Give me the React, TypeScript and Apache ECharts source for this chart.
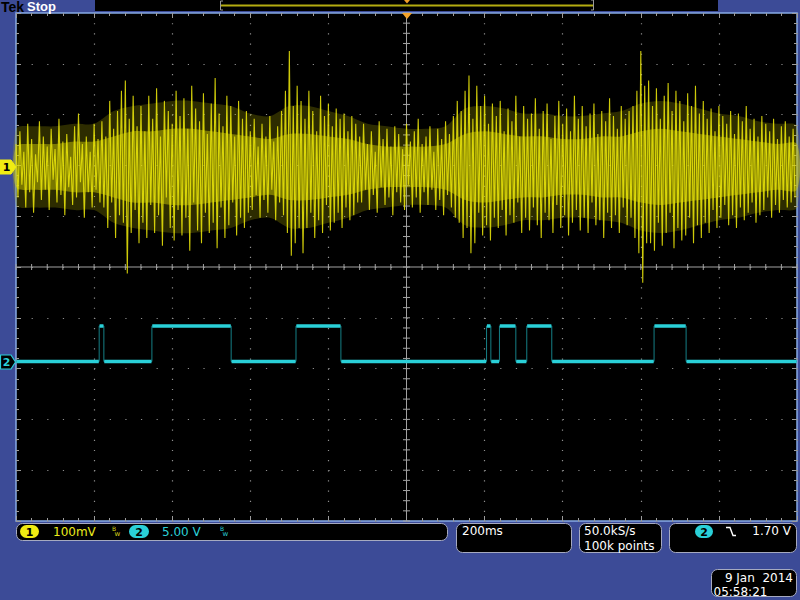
import React, { useEffect, useRef } from "react";
import * as echarts from "echarts";

// ---- scope settings ----
const SCREEN_MS = 2000; // 10 divisions x 200 ms
const TIME_DIV_MS = 200;
const CH1_MV_PER_DIV = 100;
const CH1_OFFSET_DIV = 1.97;
const CH2_V_PER_DIV = 5;
const CH2_OFFSET_DIV = -1.86;

// ---- channel 1 (100 mV/div) : per-sample positive / negative peaks, mV ----
const ch1High = [
  45, 70, 30, 85, 55, 25, 90, 60, 40, 75, 35, 95, 50, 65, 20, 80, 105, 45, 60, 30, 85, 55,
  90, 60, 130, 75, 110, 150, 170, 95, 140, 80,
  120, 70, 140, 95, 155, 60, 130, 110, 85, 150, 100, 135, 75, 160, 115, 90, 145, 65, 125, 175, 105, 80, 140, 120, 60, 130, 95, 110,
  70, 95, 40, 85, 60, 100, 50, 80, 110,
  150, 228, 120, 160,
  130, 95, 150, 110, 70, 140, 100, 125, 80, 115, 95, 105, 70, 100, 85,
  60, 85, 45, 70, 30, 90, 55, 75, 40, 80, 65, 35, 85, 50, 70, 95, 45, 60, 80, 30, 75, 55, 90, 65, 100,
  130, 110, 150, 180, 95, 160, 120, 140, 85, 125,
  100, 130, 70, 115, 90, 140, 60, 120, 95, 105, 135, 75, 110, 125, 55, 100, 130, 85, 115, 70, 140, 95, 120, 80, 105, 125, 65, 110, 90, 135, 100, 75, 120, 95, 110,
  120, 150, 228, 160,
  170, 120, 155, 95, 140, 165, 110, 150, 130, 90, 145, 120, 160, 105,
  130, 95, 115, 70, 120, 100, 85, 110, 65, 105, 90, 120, 75, 95, 60, 100, 85, 70, 95, 55, 80, 90, 60, 75,
];
const ch1Low = [
  -60, -35, -80, -50, -90, -30, -65, -45, -85, -25, -70, -55, -95, -40, -75, -60, -30, -100, -50, -80, -45, -70,
  -80, -120, -70, -140, -95, -110, -210, -130, -85, -150,
  -110, -140, -75, -130, -95, -155, -60, -120, -145, -85, -135, -100, -165, -70, -125, -150, -90, -130, -110, -160, -80, -140, -115, -70, -135, -100, -120, -90,
  -85, -55, -100, -65, -90, -45, -105, -70, -95,
  -130, -175, -150, -120,
  -170, -120, -90, -140, -105, -130, -75, -125, -110, -90, -120, -80, -105, -95, -70,
  -70, -45, -85, -55, -90, -40, -75, -60, -95, -50, -70, -85, -35, -80, -60, -90, -50, -75, -45, -85, -65, -95, -55, -80, -100,
  -110, -140, -120, -170, -150, -90, -135, -115, -145, -100,
  -120, -85, -135, -95, -110, -70, -130, -100, -125, -80, -115, -140, -90, -105, -130, -75, -120, -95, -135, -110, -85, -125, -100, -130, -70, -115, -105, -140, -90, -120, -95, -130, -80, -115, -100,
  -140, -170, -228, -150,
  -150, -165, -110, -155, -130, -90, -160, -120, -145, -135, -100, -150, -115, -140,
  -110, -130, -85, -120, -100, -75, -115, -95, -120, -80, -105, -90, -70, -110, -95, -85, -60, -100, -75, -90, -65, -80, -70, -60,
];
// dense (bright) core of channel 1: half width in mV, every 1/4 division
const ch1Core = [
  40, 45, 45, 50, 50, 60, 70, 70, 75, 75, 70, 65, 60, 55, 65, 65, 60, 55, 45, 40,
  40, 40, 45, 65, 70, 65, 60, 60, 55, 55, 60, 60, 70, 75, 70, 65, 60, 55, 50, 45, 45,
];
// moderately dense spread of channel 1: half width in mV, every 1/4 division
const ch1Spread = [
  75, 80, 80, 85, 85, 110, 120, 125, 130, 130, 125, 120, 105, 100, 120, 120, 110, 100, 85, 80,
  75, 75, 80, 115, 120, 115, 105, 105, 100, 100, 105, 110, 125, 130, 125, 115, 105, 100, 90, 85, 80,
];

// ---- channel 2 (5 V/div) : logic signal, edges in ms and level (V) of each span ----
const ch2Times = [0, 213, 225, 348, 551, 717, 832, 1205, 1216, 1238, 1280, 1308, 1372, 1634, 1716, 2000];
const ch2Levels = [0, 3.5, 0, 3.5, 0, 3.5, 0, 3.5, 0, 3.5, 0, 3.5, 0, 3.5, 0];

const BLUE = "#3c4b97";
const YELLOW = "#e4e00a";
const CYAN = "#2ad0d8";
const FONT = '"DejaVu Sans", sans-serif';

function ch1ToDiv(mv: number) {
  return CH1_OFFSET_DIV + mv / CH1_MV_PER_DIV;
}
function ch2ToDiv(v: number) {
  return CH2_OFFSET_DIV + v / CH2_V_PER_DIV;
}

function bandSeries(name: string, halfWidths: number[], fill: string, z: number) {
  const stepMs = SCREEN_MS / (halfWidths.length - 1);
  return {
    type: "custom",
    name,
    coordinateSystem: "cartesian2d",
    silent: true,
    z,
    data: [[0, CH1_OFFSET_DIV]],
    renderItem: (_p: any, api: any) => {
      const top = halfWidths.map((c, i) => api.coord([i * stepMs, ch1ToDiv(c)]));
      const bottom = halfWidths.map((c, i) => api.coord([i * stepMs, ch1ToDiv(-c)])).reverse();
      return {
        type: "polygon",
        shape: { points: top.concat(bottom), smooth: 0.3 },
        style: { fill },
      };
    },
  };
}

function buildOption() {
  const n = ch1High.length;
  const step = SCREEN_MS / n;
  const ch1Data: any[] = [];
  for (let i = 0; i < n; i++) {
    ch1Data.push([i * step, ch1ToDiv(ch1High[i])]);
    ch1Data.push([i * step + step / 2, ch1ToDiv(ch1Low[i])]);
  }

  const ch2Edge: any[] = [];
  const ch2Flat: any[] = [];
  for (let i = 0; i < ch2Levels.length; i++) {
    const y = ch2ToDiv(ch2Levels[i]);
    ch2Edge.push([ch2Times[i], y], [ch2Times[i + 1], y]);
    ch2Flat.push([ch2Times[i] + 1, y], [ch2Times[i + 1] - 1, y], [ch2Times[i + 1], "-"]);
  }

  const tickColor = "#9c9c9c";
  const axisCommon = (pos: string) => ({
    type: "value",
    position: pos,
    axisLine: { show: false, onZero: false },
    axisLabel: { show: false },
    axisTick: { show: true, inside: true, length: 5, lineStyle: { color: tickColor, width: 1 } },
    minorTick: { show: true, splitNumber: 5, length: 3, lineStyle: { color: tickColor, width: 1 } },
  });

  const textEl = (text: string, x: number, y: number, fill: string, opts: any = {}) => ({
    type: "text",
    x,
    y,
    silent: true,
    z: 100,
    style: {
      text,
      fill,
      font: opts.font || `12px ${FONT}`,
      textAlign: opts.align || "left",
      textVerticalAlign: "middle",
    },
  });
  const box = (x: number, y: number, w: number, h: number) => ({
    type: "rect",
    silent: true,
    z: 90,
    shape: { x, y, width: w, height: h, r: 6 },
    style: { fill: "#000", stroke: "#a6aac0", lineWidth: 1 },
  });
  const pill = (x: number, y: number, w: number, fill: string, label: string) => [
    {
      type: "rect",
      silent: true,
      z: 95,
      shape: { x, y, width: w, height: 13, r: 6.5 },
      style: { fill },
    },
    textEl(label, x + w / 2, y + 7, "#000", { font: `bold 11px ${FONT}`, align: "center" }),
  ];

  const graphic: any[] = [
    // top bar
    textEl("Tek", 1, 6.5, "#000", { font: 'bold 14px "Liberation Sans", sans-serif' }),
    textEl("Stop", 27, 6.5, "#fff", { font: 'bold 13px "Liberation Sans", sans-serif' }),
    { type: "rect", silent: true, z: 90, shape: { x: 95, y: 0, width: 623, height: 11 }, style: { fill: "#000" } },
    { type: "rect", silent: true, z: 91, shape: { x: 221, y: 4.5, width: 372, height: 2 }, style: { fill: "#b4ac10" } },
    { type: "polyline", silent: true, z: 92, shape: { points: [[223, 1], [220.5, 1], [220.5, 10], [223, 10]] }, style: { stroke: "#9a9a9a", lineWidth: 1, fill: null } },
    { type: "polyline", silent: true, z: 92, shape: { points: [[591, 0], [593.5, 0], [593.5, 10], [591, 10]] }, style: { stroke: "#9a9a9a", lineWidth: 1, fill: null } },
    { type: "polygon", silent: true, z: 92, shape: { points: [[404, 0], [410, 0], [407, 3.5]] }, style: { fill: "#f0a028" } },
    // trigger position marker
    { type: "polygon", silent: true, z: 100, shape: { points: [[402, 13], [412, 13], [407, 19]] }, style: { fill: "#f2a22a" } },
    // channel ground markers
    { type: "polygon", silent: true, z: 100, shape: { points: [[0, 160], [11, 160], [16, 167], [11, 174], [0, 174]] }, style: { fill: "#f0ec12", stroke: "#f0ec12" } },
    textEl("1", 6.5, 167.5, "#000", { font: `bold 11px ${FONT}`, align: "center" }),
    { type: "polygon", silent: true, z: 100, shape: { points: [[0.5, 355], [11, 355], [15.5, 362], [11, 369], [0.5, 369]] }, style: { fill: "#000", stroke: CYAN, lineWidth: 1.2 } },
    textEl("2", 6.5, 362.5, CYAN, { font: `bold 11px ${FONT}`, align: "center" }),
    // status bar
    box(16.5, 523.5, 431, 17),
    ...pill(20, 525, 19, "#f0ec12", "1"),
    textEl("100mV", 53, 532, "#ecec1c"),
    textEl("B", 112, 528.5, "#d8d418", { font: `6px ${FONT}` }),
    textEl("w", 114.5, 534, "#d8d418", { font: `7px ${FONT}` }),
    ...pill(129, 525, 20, CYAN, "2"),
    textEl("5.00 V", 162, 532, CYAN),
    textEl("B", 220, 528.5, CYAN, { font: `6px ${FONT}` }),
    textEl("w", 222.5, 534, CYAN, { font: `7px ${FONT}` }),
    box(456.5, 523.5, 115, 29),
    textEl("200ms", 462, 531, "#fff"),
    box(579.5, 523.5, 82, 29),
    textEl("50.0kS/s", 584, 531, "#fff"),
    textEl("100k points", 584, 545.5, "#fff"),
    box(669.5, 523.5, 127, 29),
    ...pill(695, 525, 18, CYAN, "2"),
    { type: "polyline", silent: true, z: 100, shape: { points: [[726, 527.5], [730, 527.5], [733, 535.5], [736, 535.5]] }, style: { stroke: "#fff", lineWidth: 1.4, fill: null } },
    textEl("1.70 V", 791, 531, "#fff", { align: "right" }),
    box(711.5, 569.5, 85, 27),
    textEl("9 Jan  2014", 793, 578, "#fff", { align: "right" }),
    textEl("05:58:21", 713.5, 591.5, "#fff"),
  ];

  return {
    animation: false,
    backgroundColor: BLUE,
    grid: {
      left: 16,
      top: 13,
      width: 781,
      height: 508,
      show: true,
      backgroundColor: "#000",
      borderColor: "#86aae6",
      borderWidth: 1.5,
      z: 0,
    },
    xAxis: [
      {
        ...axisCommon("bottom"),
        min: 0,
        max: SCREEN_MS,
        interval: TIME_DIV_MS,
        splitLine: { show: true, lineStyle: { color: "#8e8e8e", width: 1.2, type: [1.2, 8.96] } },
      },
      { ...axisCommon("top"), min: 0, max: SCREEN_MS, interval: TIME_DIV_MS, splitLine: { show: false } },
    ],
    yAxis: [
      {
        ...axisCommon("left"),
        min: -5,
        max: 5,
        interval: 1,
        splitLine: { show: true, lineStyle: { color: "#8e8e8e", width: 1.2, type: [1.2, 14.42] } },
      },
      { ...axisCommon("right"), min: -5, max: 5, interval: 1, splitLine: { show: false } },
    ],
    series: [
      {
        type: "custom",
        name: "graticule",
        coordinateSystem: "cartesian2d",
        silent: true,
        z: 1,
        data: [[SCREEN_MS / 2, 0]],
        renderItem: (_p: any, api: any) => {
          const c = api.coord([SCREEN_MS / 2, 0]);
          const tl = api.coord([0, 5]);
          const br = api.coord([SCREEN_MS, -5]);
          const st = { stroke: "#a2a2a2", lineWidth: 1 };
          const children: any[] = [
            { type: "line", shape: { x1: tl[0], y1: c[1], x2: br[0], y2: c[1] }, style: st },
            { type: "line", shape: { x1: c[0], y1: tl[1], x2: c[0], y2: br[1] }, style: st },
          ];
          for (let k = 0; k <= 50; k++) {
            const x = api.coord([(k * SCREEN_MS) / 50, 0])[0];
            children.push({ type: "line", shape: { x1: x, y1: c[1] - 3, x2: x, y2: c[1] + 3 }, style: st });
          }
          for (let k = 0; k <= 50; k++) {
            const y = api.coord([0, -5 + k * 0.2])[1];
            children.push({ type: "line", shape: { x1: c[0] - 3.5, y1: y, x2: c[0] + 3.5, y2: y }, style: st });
          }
          return { type: "group", children };
        },
      },
      bandSeries("CH1 spread", ch1Spread, "rgba(190,184,0,0.24)", 2),
      bandSeries("CH1 core", ch1Core, "rgba(216,210,0,0.45)", 3),
      {
        type: "line",
        name: "CH1",
        data: ch1Data,
        showSymbol: false,
        silent: true,
        z: 5,
        lineStyle: { color: YELLOW, width: 1.1, opacity: 0.9 },
      },
      {
        type: "line",
        name: "CH2 edges",
        data: ch2Edge,
        showSymbol: false,
        silent: true,
        z: 6,
        lineStyle: { color: "#157f86", width: 1 },
      },
      {
        type: "line",
        name: "CH2",
        data: ch2Flat,
        showSymbol: false,
        connectNulls: false,
        silent: true,
        z: 7,
        lineStyle: { color: CYAN, width: 3.5 },
      },
    ],
    graphic,
  };
}

export default function App() {
  const ref = useRef<HTMLDivElement>(null);
  useEffect(() => {
    if (!ref.current) return;
    const chart = echarts.init(ref.current, undefined, { renderer: "svg" });
    chart.setOption(buildOption() as any);
    return () => chart.dispose();
  }, []);
  return (
    <div
      ref={ref}
      style={{ position: "fixed", left: 0, top: 0, width: 800, height: 600, background: BLUE }}
    />
  );
}
